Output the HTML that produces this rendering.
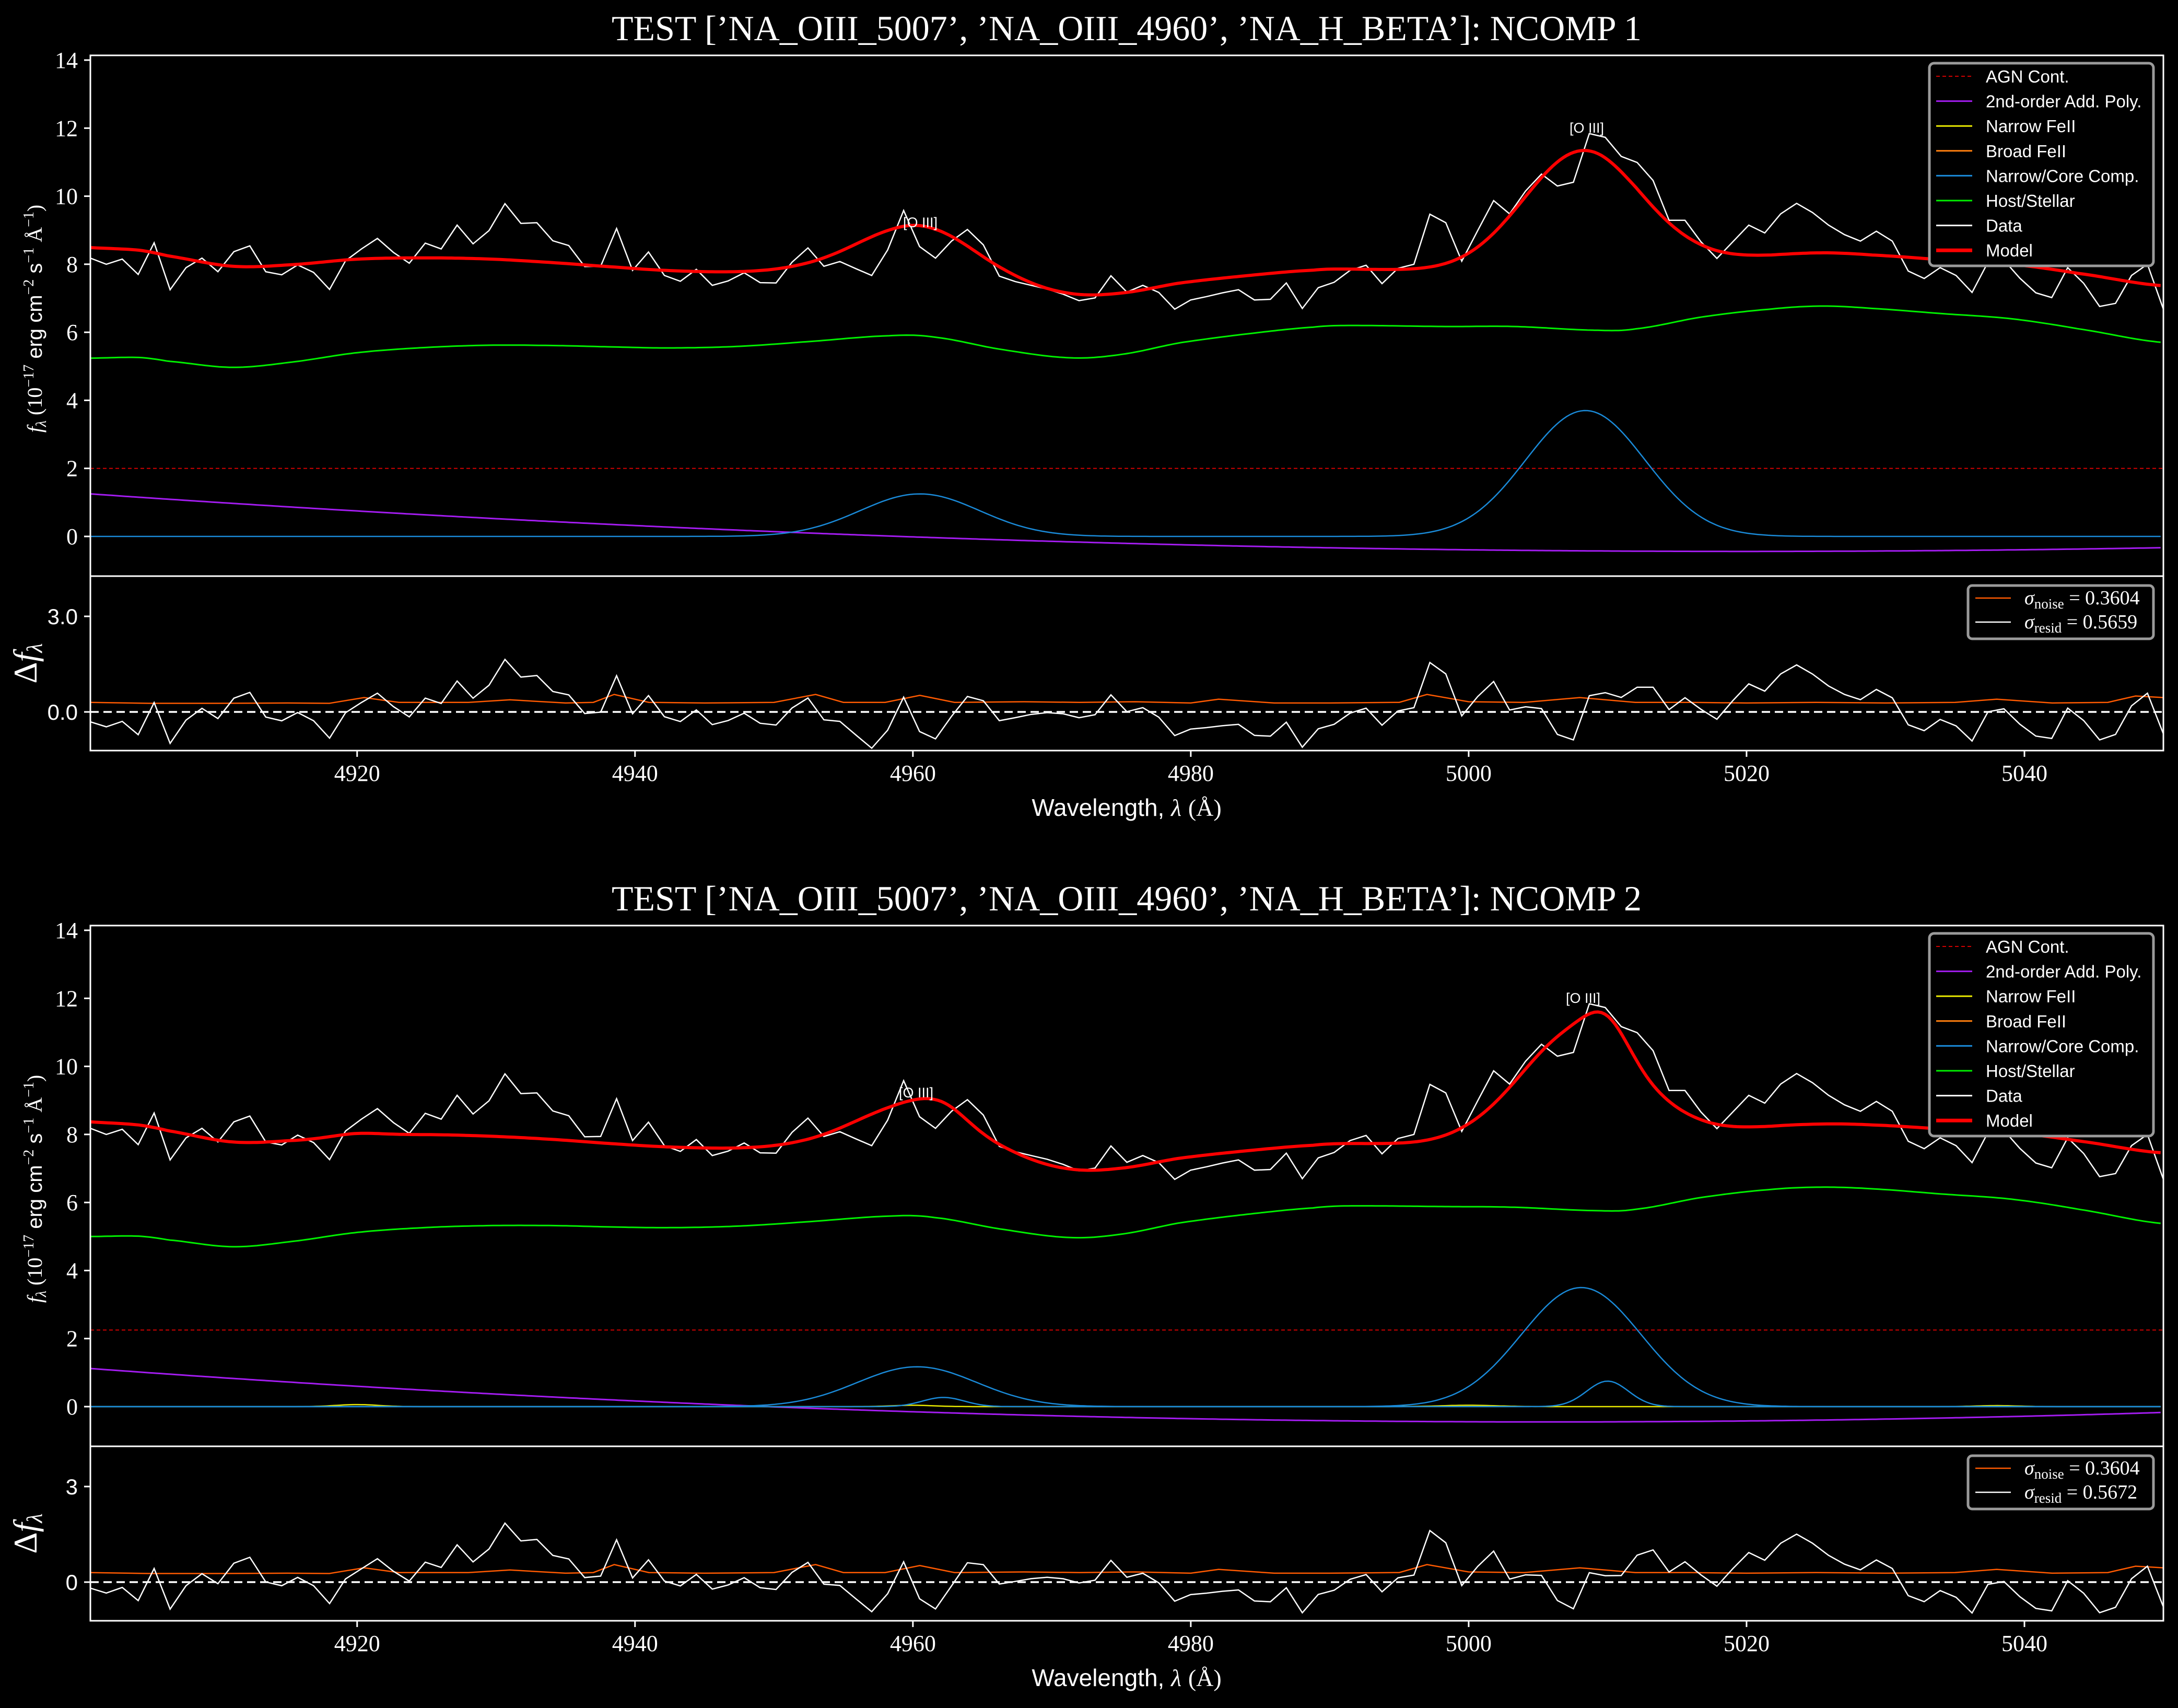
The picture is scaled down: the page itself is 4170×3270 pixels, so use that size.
<!DOCTYPE html>
<html><head><meta charset="utf-8"><title>Spectral fit</title>
<style>
html,body{margin:0;padding:0;background:#000;}
svg{display:block;}
.tk{font-family:"Liberation Serif",serif;font-size:44px;fill:#fff;}
.lg{font-family:"Liberation Sans",sans-serif;font-size:33px;fill:#fff;}
.ttl{font-family:"Liberation Serif",serif;font-size:68px;fill:#fff;}
</style></head>
<body>
<svg id="fig" xmlns="http://www.w3.org/2000/svg" width="4170" height="3270" viewBox="0 0 4170 3270">
<rect x="0" y="0" width="4170" height="3270" fill="#000"/>
</svg>
<script>
// ---------- data ----------
const lamStart = 4900.8;
const lamStep = 1.1477;
const fluxData = [8.18,8.00,8.15,7.70,8.63,7.25,7.90,8.18,7.78,8.37,8.54,7.78,7.69,7.98,7.76,7.26,8.10,8.45,8.76,8.35,8.03,8.62,8.45,9.15,8.60,8.99,9.78,9.20,9.22,8.69,8.55,7.93,7.94,9.05,
7.82,8.36,7.67,7.50,7.85,7.38,7.51,7.75,7.46,7.45,8.06,8.48,7.94,8.08,7.87,7.67,8.42,9.58,8.52,8.18,8.68,9.02,8.57,7.65,7.49,7.38,7.27,7.12,6.93,7.01,7.66,7.18,
7.38,7.17,6.68,6.95,7.05,7.16,7.25,6.95,6.97,7.45,6.70,7.31,7.47,7.82,7.97,7.43,7.88,8.00,9.47,9.22,8.09,8.99,9.87,9.48,10.15,10.65,10.30,10.41,11.84,11.73,11.17,10.99,
10.46,9.29,9.29,8.66,8.17,8.66,9.15,8.92,9.48,9.79,9.52,9.15,8.87,8.68,8.97,8.68,7.80,7.58,7.90,7.67,7.17,8.06,8.12,7.59,7.16,7.02,7.90,7.44,6.76,6.85,7.67,8.00,6.68];

const hostLam = [4900.8,4904.3,4906.4,4911,4915.2,4920,4924.8,4929.5,4934.2,4938.4,4942.3,4947.1,4951.9,4958.4,4961.5,4966.3,4971.3,4975,4979.2,4984,4988.8,4991.2,4998.4,5003.2,5009.2,5012,5016.8,5021.7,5025.4,5029.1,5034,5039,5043.9,5050];
const hostVals1 = [5.24,5.26,5.15,4.97,5.12,5.40,5.55,5.62,5.61,5.57,5.54,5.58,5.71,5.90,5.86,5.50,5.25,5.35,5.69,5.95,6.15,6.20,6.17,6.17,6.06,6.10,6.45,6.68,6.77,6.70,6.55,6.40,6.10,5.70];
const hostVals2 = [5.00,5.01,4.90,4.70,4.85,5.12,5.26,5.32,5.32,5.28,5.26,5.30,5.42,5.60,5.56,5.22,4.97,5.07,5.40,5.65,5.84,5.90,5.88,5.86,5.76,5.80,6.15,6.38,6.45,6.40,6.25,6.10,5.80,5.38];

const agnCont = [2.0, 2.25];
const polyRef = 4900.8;
const polyCoef1 = [1.25, -0.02841, 0.0001194];
const polyCoef2 = [1.12, -0.0299, 0.0001424];

const coreCenters1 = [4960.5, 5008.4];
const coreAmps1 = [1.25, 3.70];
const coreSigmas1 = [4.3, 4.3];
const coreCenters2 = [4960.3, 5008.1];
const coreAmps2 = [1.17, 3.50];
const coreSigmas2 = [4.3, 4.3];
const outCenters2 = [4962.2, 5010.0];
const outAmps2 = [0.27, 0.75];
const outSigmas2 = [1.5, 1.5];
const feCenters2 = [4920, 4960, 5000, 5038];
const feAmps2 = [0.06, 0.04, 0.04, 0.03];
const feSigmas2 = [1.5, 1.5, 2.0, 1.5];

const noiseLam = [4900.8,4905,4910,4915,4918,4920.5,4923,4928,4931,4935,4937,4938.5,4941,4945,4950,4953,4955,4958,4960.5,4963,4968,4972,4976,4980,4982,4986,4990,4995,4997,5000,5004,5008,5012,5016,5020,5025,5030,5035,5038,5042,5046,5048,5050];
const noiseVal = [0.30,0.27,0.27,0.28,0.27,0.45,0.30,0.30,0.38,0.28,0.30,0.55,0.30,0.28,0.30,0.55,0.30,0.30,0.52,0.30,0.32,0.30,0.32,0.28,0.40,0.28,0.28,0.30,0.55,0.32,0.30,0.45,0.30,0.30,0.28,0.30,0.28,0.30,0.40,0.28,0.30,0.50,0.45];

const yTicksMain = [0,2,4,6,8,10,12,14];
const xTicks = [4920,4940,4960,4980,5000,5020,5040];
const resTicks = [0,3];
const resTickLabels1 = ["0.0","3.0"];
const resTickLabels2 = ["0","3"];
const legendLabels = ["AGN Cont.","2nd-order Add. Poly.","Narrow FeII","Broad FeII","Narrow/Core Comp.","Host/Stellar","Data","Model"];
const sigmaNoise = ["0.3604","0.3604"];
const sigmaResid = ["0.5659","0.5672"];
const titles = ["TEST [\u2019NA_OIII_5007\u2019, \u2019NA_OIII_4960\u2019, \u2019NA_H_BETA\u2019]: NCOMP 1",
                "TEST [\u2019NA_OIII_5007\u2019, \u2019NA_OIII_4960\u2019, \u2019NA_H_BETA\u2019]: NCOMP 2"];

// ---------- helpers ----------
const NS = "http://www.w3.org/2000/svg";
const svg = document.getElementById("fig");
function mk(tag, attrs, parent){
  const e = document.createElementNS(NS, tag);
  for (const k in attrs) e.setAttribute(k, attrs[k]);
  (parent||svg).appendChild(e);
  return e;
}
function interp(xs, ys, x){
  if (x <= xs[0]) return ys[0];
  if (x >= xs[xs.length-1]) return ys[ys.length-1];
  let i = 0; while (xs[i+1] < x) i++;
  const t = (x - xs[i])/(xs[i+1]-xs[i]);
  const p0 = ys[Math.max(0,i-1)], p1 = ys[i], p2 = ys[i+1], p3 = ys[Math.min(ys.length-1,i+2)];
  const t2=t*t, t3=t2*t;
  return 0.5*((2*p1)+(-p0+p2)*t+(2*p0-5*p1+4*p2-p3)*t2+(-p0+3*p1-3*p2+p3)*t3);
}
function gsum(c, a, s, x){
  let v = 0;
  for (let i=0;i<c.length;i++) v += a[i]*Math.exp(-0.5*Math.pow((x-c[i])/s[i],2));
  return v;
}
function poly(coef, x){ const u = x-polyRef; return coef[0]+coef[1]*u+coef[2]*u*u; }
function ptsStr(arr){ return arr.map(p=>p[0].toFixed(1)+","+p[1].toFixed(1)).join(" "); }

const X0 = 173, X1 = 4142, LAM0 = 4900.8, LAM1 = 5050.0;
function xs(l){ return X0 + (l-LAM0)/(LAM1-LAM0)*(X1-X0); }
const dataLam = fluxData.map((_,i)=> lamStart + i*lamStep);
const fine = []; for (let l=LAM0; l<=LAM1+1e-6; l+=0.25) fine.push(l);

function panel(p){
  const dy = p*1666;
  const hostVals = p===0 ? hostVals1 : hostVals2;
  const coef = p===0 ? polyCoef1 : polyCoef2;
  const agn = agnCont[p];
  const cC = p===0?coreCenters1:coreCenters2, cA = p===0?coreAmps1:coreAmps2, cS = p===0?coreSigmas1:coreSigmas2;
  const top = 106+dy, mid = 1103+dy, bot = 1437+dy;
  const ym = v => 1027 + dy - v*65.14;
  const yr = v => 1363 + dy - v*61.0;
  const model = l => interp(hostLam, hostVals, l) + agn + poly(coef, l) + gsum(cC,cA,cS,l)
      + (p===1 ? gsum(outCenters2,outAmps2,outSigmas2,l) + gsum(feCenters2,feAmps2,feSigmas2,l) : 0);

  const g = mk("g", {});
  
  

  const cid = "clipMain"+p, rid = "clipRes"+p;
  const defs = mk("defs", {}, g);
  const c1 = mk("clipPath", {id:cid}, defs); mk("rect",{x:X0,y:top,width:X1-X0,height:mid-top},c1);
  const c2 = mk("clipPath", {id:rid}, defs); mk("rect",{x:X0,y:mid,width:X1-X0,height:bot-mid},c2);

  const t = mk("text", {x:2157, y:77+dy, "text-anchor":"middle", class:"ttl"}, g);
  t.textContent = titles[p];
  
  

  const mg = mk("g", {"clip-path":"url(#"+cid+")"}, g);
  
  

  let e = mk("line", {x1:X0, x2:X1, y1:ym(agn), y2:ym(agn), stroke:"#d00000", "stroke-width":2, "stroke-dasharray":"7,5"}, mg);
  
  
  e = mk("polyline", {points:ptsStr(fine.map(l=>[xs(l), ym(poly(coef,l))])), fill:"none", stroke:"#a31cf0", "stroke-width":3}, mg);
  
  
  if (p===1){
    e = mk("polyline", {points:ptsStr(fine.map(l=>[xs(l), ym(gsum(feCenters2,feAmps2,feSigmas2,l))])), fill:"none", stroke:"#e8e800", "stroke-width":2.5}, mg);
    
    
  }
  e = mk("polyline", {points:ptsStr(fine.map(l=>[xs(l), ym(gsum(cC,cA,cS,l))])), fill:"none", stroke:"#1a8ad8", "stroke-width":2.5}, mg);
  
  
  if (p===1){
    e = mk("polyline", {points:ptsStr(fine.map(l=>[xs(l), ym(gsum(outCenters2,outAmps2,outSigmas2,l))])), fill:"none", stroke:"#1a8ad8", "stroke-width":2.5}, mg);
    
    
  }
  e = mk("polyline", {points:ptsStr(fine.map(l=>[xs(l), ym(interp(hostLam,hostVals,l))])), fill:"none", stroke:"#00f000", "stroke-width":3}, mg);
  
  
  e = mk("polyline", {points:ptsStr(fluxData.map((v,i)=>[xs(dataLam[i]), ym(v)])), fill:"none", stroke:"#ffffff", "stroke-width":2.5, "stroke-linejoin":"miter"}, mg);
  
  
  e = mk("polyline", {points:ptsStr(fine.map(l=>[xs(l), ym(model(l))])), fill:"none", stroke:"#ff0000", "stroke-width":6}, mg);
  
  

  const ann = p===0 ? [[1729,435],[3005,254]] : [[1721,2101-1666],[2998,1920-1666]];
  ann.forEach((a)=>{
    const tx = mk("text", {x:a[0], y:a[1]+dy, class:"lg", style:"font-size:27px"}, g);
    tx.textContent = "[O III]";
    
    
  });

  const rg = mk("g", {"clip-path":"url(#"+rid+")"}, g);
  
  
  e = mk("polyline", {points:ptsStr(noiseLam.map((l,i)=>[xs(l), yr(noiseVal[i])])), fill:"none", stroke:"#ff5a00", "stroke-width":2.5}, rg);
  
  
  e = mk("polyline", {points:ptsStr(fluxData.map((v,i)=>[xs(dataLam[i]), yr(v - model(dataLam[i]))])), fill:"none", stroke:"#ffffff", "stroke-width":2.5}, rg);
  
  
  e = mk("line", {x1:X0, x2:X1, y1:yr(0), y2:yr(0), stroke:"#fff", "stroke-width":3.5, "stroke-dasharray":"16,9"}, rg);
  
  

  e = mk("rect", {x:X0, y:top, width:X1-X0, height:mid-top, fill:"none", stroke:"#fff", "stroke-width":3}, g);
  
  
  e = mk("rect", {x:X0, y:mid, width:X1-X0, height:bot-mid, fill:"none", stroke:"#fff", "stroke-width":3}, g);
  
  

  yTicksMain.forEach(v=>{
    const y = ym(v);
    let tk = mk("line", {x1:X0-12, x2:X0, y1:y, y2:y, stroke:"#fff", "stroke-width":3}, g);
    
    
    const lb = mk("text", {x:X0-24, y:y+15, "text-anchor":"end", class:"tk"}, g);
    lb.textContent = String(v);
    
    
  });
  resTicks.forEach((v,i)=>{
    const y = yr(v);
    let tk = mk("line", {x1:X0-12, x2:X0, y1:y, y2:y, stroke:"#fff", "stroke-width":3}, g);
    
    
    const lb = mk("text", {x:X0-24, y:y+15, "text-anchor":"end", class:"lg", style:"font-size:42px"}, g);
    lb.textContent = (p===0?resTickLabels1:resTickLabels2)[i];
    
    
  });
  xTicks.forEach(v=>{
    const x = xs(v);
    let tk = mk("line", {x1:x, x2:x, y1:bot, y2:bot+12, stroke:"#fff", "stroke-width":3}, g);
    
    
    const lb = mk("text", {x:x, y:bot+58, "text-anchor":"middle", class:"tk"}, g);
    lb.textContent = String(v);
    
    
  });

  const xl = mk("text", {x:2157, y:1562+dy, "text-anchor":"middle", class:"lg", style:"font-size:46px"}, g);
  xl.innerHTML = 'Wavelength, <tspan font-family="Liberation Serif" font-style="italic">λ</tspan> <tspan font-family="Liberation Serif">(Å)</tspan>';
  
  

  const yl = mk("text", {x:0, y:0, "text-anchor":"middle", class:"lg", style:"font-size:40px", transform:"translate(80,"+(610+dy)+") rotate(-90)"}, g);
  yl.innerHTML = '<tspan font-family="Liberation Serif" font-style="italic">f</tspan><tspan font-family="Liberation Serif" font-style="italic" font-size="28" dy="8">λ</tspan><tspan dy="-8" font-family="Liberation Serif"> (10</tspan><tspan font-family="Liberation Serif" font-size="28" dy="-16">−17</tspan><tspan dy="16"> erg cm</tspan><tspan font-family="Liberation Serif" font-size="28" dy="-16">−2</tspan><tspan dy="16"> s</tspan><tspan font-family="Liberation Serif" font-size="28" dy="-16">−1</tspan><tspan dy="16" font-family="Liberation Serif"> Å</tspan><tspan font-family="Liberation Serif" font-size="28" dy="-16">−1</tspan><tspan dy="16" font-family="Liberation Serif">)</tspan>';
  
  

  const rl = mk("text", {x:0, y:0, "text-anchor":"middle", class:"tk", style:"font-size:64px", transform:"translate(70,"+(1270+dy)+") rotate(-90)"}, g);
  rl.innerHTML = 'Δ<tspan font-style="italic">f</tspan><tspan font-style="italic" font-size="42" dy="10">λ</tspan>';
  
  

  const lgG = mk("g", {}, g);
  
  
  mk("rect", {x:3694, y:121+dy, width:429, height:388, rx:9, fill:"#000", stroke:"#9a9a9a", "stroke-width":5}, lgG);
  const lc = ["#d00000","#a31cf0","#e8e800","#ff7f0e","#1a8ad8","#00f000","#ffffff","#ff0000"];
  const lw = [2,3,3,3,3,3,3,7];
  legendLabels.forEach((s,i)=>{
    const y = 146+i*47.6+dy;
    const ln = mk("line", {x1:3707, x2:3776, y1:y, y2:y, stroke:lc[i], "stroke-width":lw[i], "stroke-dasharray": i===0?"7,5":"none"}, lgG);
    
    
    const tx = mk("text", {x:3802, y:y+12, class:"lg"}, lgG);
    tx.textContent = s;
    
    
  });

  const rlg = mk("g", {}, g);
  
  
  mk("rect", {x:3768, y:1121+dy, width:355, height:102, rx:8, fill:"#000", stroke:"#9a9a9a", "stroke-width":5}, rlg);
  [["#ff5a00","noise",sigmaNoise[p],1145],["#ffffff","resid",sigmaResid[p],1191]].forEach(r=>{
    const ln = mk("line", {x1:3782, x2:3850, y1:r[3]+dy, y2:r[3]+dy, stroke:r[0], "stroke-width":2.5}, rlg);
    
    
    const tx = mk("text", {x:3876, y:r[3]+12+dy, class:"tk", style:"font-size:38px"}, rlg);
    tx.innerHTML = '<tspan font-style="italic">σ</tspan><tspan font-size="27" dy="8">'+r[1]+'</tspan><tspan dy="-8"> = '+r[2]+'</tspan>';
    
    
  });
}
panel(0);
panel(1);
</script>
</body></html>
